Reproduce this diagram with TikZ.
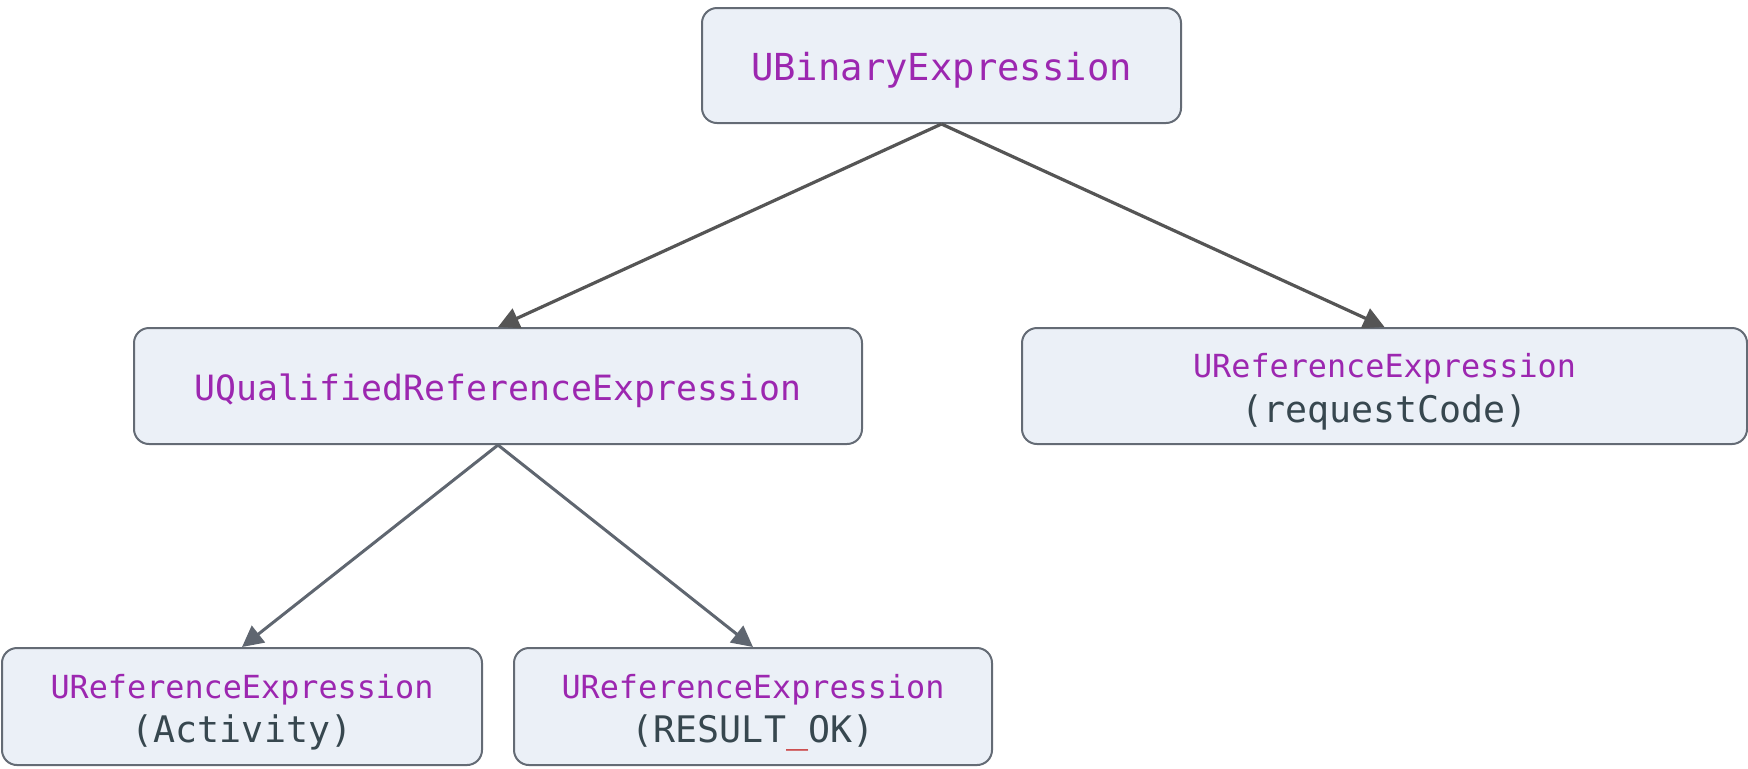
\documentclass[tikz,border=0pt]{standalone}
\usepackage{fontspec}
\setmonofont{DejaVu Sans Mono}
\usetikzlibrary{arrows.meta}
\definecolor{ufill}{HTML}{EBF0F7}
\definecolor{uborder}{HTML}{646B75}
\definecolor{upurple}{HTML}{9C27B0}
\definecolor{udark}{HTML}{37474F}
\definecolor{ured}{HTML}{C62828}
\definecolor{uarrowA}{HTML}{555555}
\definecolor{uarrowB}{HTML}{5F6670}
\tikzset{
  ubox/.style={draw=uborder, fill=ufill, line width=1pt, rounded corners=7.5pt,
    align=center, inner sep=0pt, font=\ttfamily\fontsize{18}{20.5}\selectfont},
  uarrowtop/.style={draw=uarrowA, line width=1.6pt, -{Triangle[length=10.5pt,width=10.5pt]}},
  uarrowlow/.style={draw=uarrowB, line width=1.5pt, -{Triangle[length=10.5pt,width=10.5pt]}},
}
\newcommand{\uname}[2]{{\fontsize{#1}{20.5}\selectfont\color{upurple}#2}}
\newcommand{\uarg}[1]{{\fontsize{18.3}{20.5}\selectfont\color{udark}#1}}
\newcommand{\utwo}[2]{\raisebox{-2.8pt}[\height][\depth]{\begin{tabular}{@{}c@{}}\uname{15.9}{#1}\\[1.8pt]\uarg{#2}\end{tabular}}}
\newcommand{\uone}[2]{\raisebox{-2.2pt}[\height][\depth]{\uname{#1}{#2}}}
\begin{document}
\begin{tikzpicture}[x=0.5pt,y=-0.5pt]
\useasboundingbox (0,0) rectangle (1748,768);
\node[ubox, minimum width=239.5pt, minimum height=57.5pt] (bin) at (941.5,65.5)
  {\uone{18.6}{UBinaryExpression}};
\node[ubox, minimum width=364pt, minimum height=58pt] (qual) at (498,386)
  {\uone{17.4}{UQualifiedReferenceExpression}};
\node[ubox, minimum width=362.5pt, minimum height=58pt] (req) at (1384.5,386)
  {\utwo{UReferenceExpression}{(requestCode)}};
\node[ubox, minimum width=240pt, minimum height=58.5pt] (act) at (242,706.5)
  {\utwo{UReferenceExpression}{(Activity)}};
\node[ubox, minimum width=239pt, minimum height=58.5pt] (res) at (753,706.5)
  {\utwo{UReferenceExpression}{(RESULT{\color{ured}\_}OK)}};
\draw[uarrowtop] (bin.south) -- (qual.north);
\draw[uarrowtop] (bin.south) -- (req.north);
\draw[uarrowlow] (qual.south) -- (act.north);
\draw[uarrowlow] (qual.south) -- (res.north);
\end{tikzpicture}
\end{document}
